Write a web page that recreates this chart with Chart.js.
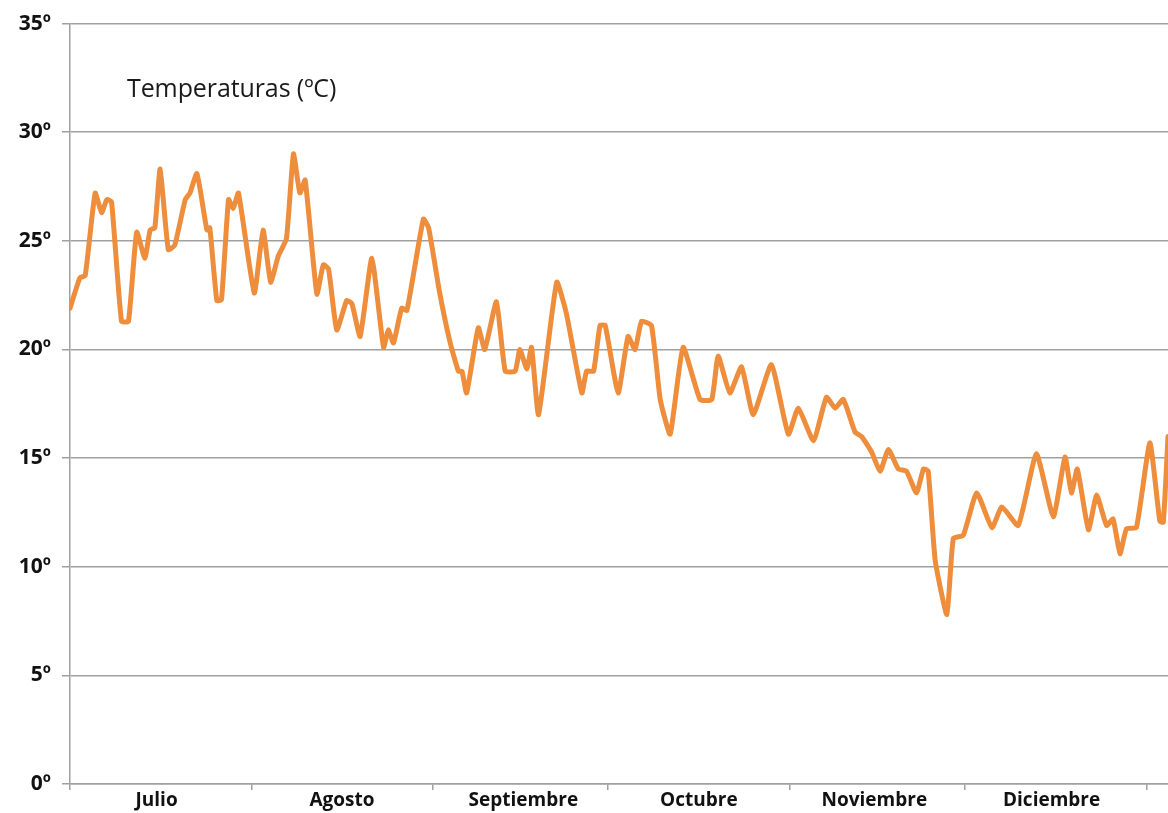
<!DOCTYPE html>
<html>
<head>
<meta charset="utf-8">
<script src="https://cdn.jsdelivr.net/npm/chart.js@4.4.1/dist/chart.umd.min.js"></script>
<style>
    html, body { margin: 0; padding: 0; background: #fff; }
    #wrap { position: relative; width: 1168px; height: 813px; }
    #titulo {
        position: absolute; left: 127px; top: 70px;
        font-family: "Open Sans", "Noto Sans", sans-serif;
        font-size: 25px; color: #1a1a1a; letter-spacing: -0.1px; line-height: 34px;
    }
</style>
</head>
<body>
<div id="wrap">
    <canvas id="grafico" width="1168" height="813"></canvas>
    <div id="titulo">Temperaturas (ºC)</div>
</div>
<script>
    // dia desde el 1 de julio y temperatura
    var dias = [0, 1.7, 2.6, 4.3, 5.4, 6.3, 7.1, 8.8, 10.0, 11.4, 12.8, 13.7, 14.5, 15.4, 16.8, 17.9,
        19.7, 20.5, 21.7, 23.4, 23.9, 25.1, 25.9, 27.1, 27.9, 28.8, 31.5, 33.0, 34.3, 35.6, 37.0,
        38.2, 39.3, 40.2, 42.2, 43.3, 44.2, 45.6, 47.3, 48.2, 49.6, 51.6, 53.6, 54.4, 55.3, 56.7,
        57.6, 60.4, 61.3, 63.2, 65.0, 66.4, 67.0, 67.8, 69.8, 70.9, 72.9, 74.4, 76.1, 76.9, 78.1,
        78.9, 80.1, 83.2, 84.9, 87.5, 88.3, 89.5, 90.6, 91.5, 93.7, 95.4, 96.6, 97.7, 99.4, 100.9,
        102.6, 104.8, 107.7, 109.7, 110.8, 112.8, 114.8, 116.8, 119.9, 122.8, 124.5, 127.1, 129.3,
        130.8, 132.2, 134.2, 135.3, 137.0, 138.5, 139.9, 141.6, 143.0, 144.7, 145.9, 146.7, 147.9,
        149.9, 151.0, 152.7, 155.0, 157.6, 159.3, 162.1, 165.2, 168.1, 170.1, 171.2, 172.2, 174.1,
        175.5, 177.2, 178.3, 179.5, 180.6, 182.3, 184.6, 186.3, 186.9, 187.7];
    var temperaturas = [21.9, 23.3, 23.4, 27.2, 26.3, 26.9, 26.8, 21.3, 21.3, 25.4, 24.2, 25.5, 25.6, 28.3, 24.6, 24.8,
        26.9, 27.2, 28.1, 25.5, 25.6, 22.25, 22.3, 26.9, 26.5, 27.2, 22.6, 25.5, 23.1, 24.3, 25.1,
        29.0, 27.2, 27.8, 22.55, 23.9, 23.7, 20.9, 22.25, 22.1, 20.6, 24.2, 20.1, 20.9, 20.3, 21.9,
        21.8, 26.0, 25.6, 22.6, 20.3, 19.0, 19.0, 18.0, 21.0, 20.0, 22.2, 19.0, 19.0, 20.0, 19.1,
        20.1, 17.0, 23.1, 21.6, 18.0, 19.0, 19.0, 21.1, 21.1, 18.0, 20.6, 20.0, 21.3, 21.1, 17.7,
        16.1, 20.1, 17.7, 17.7, 19.7, 18.0, 19.2, 17.0, 19.3, 16.1, 17.3, 15.8, 17.8,
        17.3, 17.7, 16.2, 16.0, 15.3, 14.4, 15.4, 14.5, 14.4, 13.4, 14.5, 14.4, 10.3,
        7.8, 11.3, 11.45, 13.4, 11.8, 12.75, 11.9, 15.2, 12.3, 15.05, 13.4, 14.5, 11.7,
        13.3, 11.9, 12.2, 10.6, 11.75, 11.8, 15.7, 12.1, 12.05, 16.0];

    var meses = ["Julio", "Agosto", "Septiembre", "Octubre", "Noviembre", "Diciembre"];
    var inicioMes = [0, 31, 62, 92, 123, 153, 184];
    var mitadMes = [14.8, 46.5, 77.5, 107.5, 137.5, 167.8];
    var ticksY = [0, 5, 10, 15, 20, 25, 30, 35];

    var puntos = dias.map(function (d, i) { return {x: d, y: temperaturas[i]}; });
    var diaMax = 187.7;
    var gris = "#a0a0a0";
    var familia = "'Open Sans', 'Noto Sans', sans-serif";

    var ctx = document.getElementById("grafico").getContext("2d");
    var grafico = new Chart(ctx, {
        type: "line",
        data: {
            datasets: [{
                data: puntos,
                borderColor: "#ee8d3c",
                borderWidth: 5,
                pointRadius: 0,
                tension: 0.15,
                borderJoinStyle: "round",
                borderCapStyle: "round",
                xAxisID: "x",
                yAxisID: "y"
            }]
        },
        options: {
            responsive: false,
            animation: false,
            layout: {padding: {top: 22, right: 0, left: 0, bottom: 0}},
            plugins: {legend: {display: false}, tooltip: {enabled: false}},
            scales: {
                x: {
                    type: "linear", position: "bottom", min: 0, max: diaMax,
                    afterBuildTicks: function (eje) {
                        eje.ticks = inicioMes.map(function (v) { return {value: v}; });
                    },
                    afterFit: function (eje) { eje.height = 5; },
                    ticks: {display: false},
                    grid: {drawOnChartArea: false, color: gris, lineWidth: 1.5, tickLength: 6},
                    border: {display: true, color: gris, width: 1.5}
                },
                x2: {
                    type: "linear", position: "bottom", min: 0, max: diaMax,
                    afterBuildTicks: function (eje) {
                        eje.ticks = mitadMes.map(function (v) { return {value: v}; });
                    },
                    afterFit: function (eje) { eje.height = 24; },
                    ticks: {
                        autoSkip: false, maxRotation: 0, padding: 0, color: "#111",
                        font: {family: familia, size: 19, weight: "bold"},
                        callback: function (v) { return meses[mitadMes.indexOf(v)]; }
                    },
                    grid: {display: false, drawTicks: false, tickLength: 0},
                    border: {display: false}
                },
                y: {
                    min: 0, max: 35,
                    afterBuildTicks: function (eje) {
                        eje.ticks = ticksY.map(function (v) { return {value: v}; });
                    },
                    afterFit: function (eje) { eje.width = 70; },
                    ticks: {
                        padding: 11, color: "#111",
                        font: {family: familia, size: 21, weight: "bold"},
                        callback: function (v) { return v + "º"; }
                    },
                    grid: {color: gris, lineWidth: 1.5, tickLength: 8},
                    border: {display: true, color: gris, width: 1.5}
                }
            }
        }
    });
</script>
</body>
</html>
